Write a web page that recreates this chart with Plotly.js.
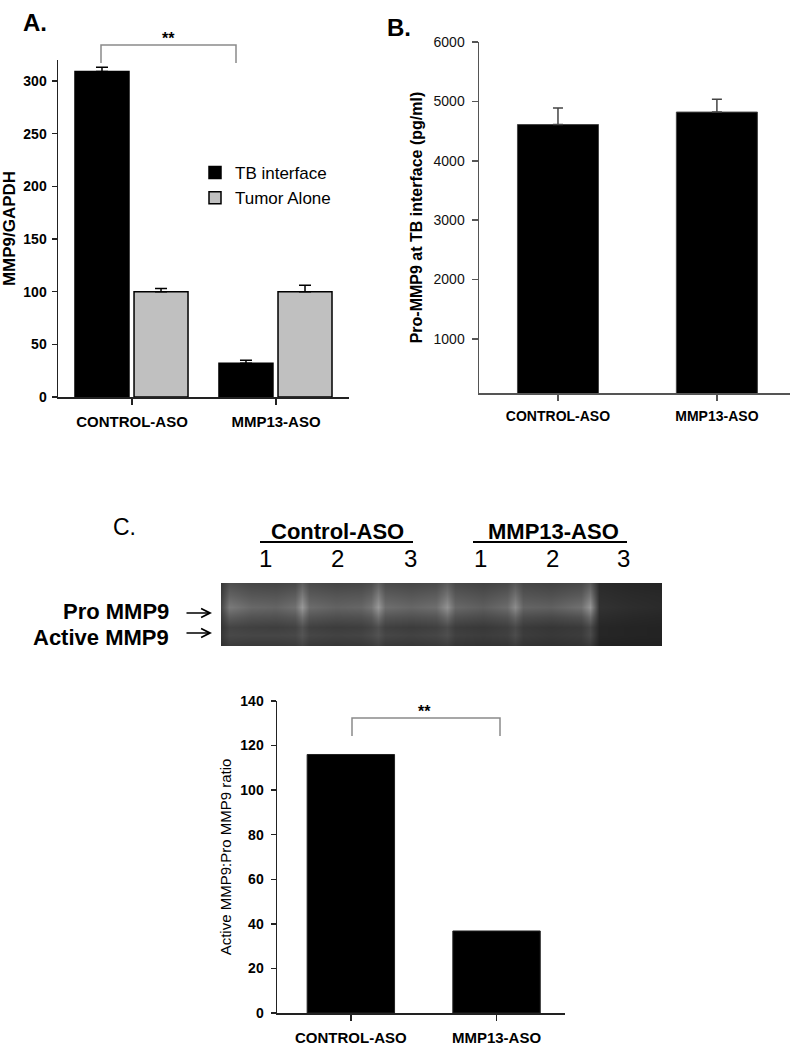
<!DOCTYPE html>
<html>
<head>
<meta charset="utf-8">
<script src="https://cdn.plot.ly/plotly-3.0.1.min.js"></script>
<style>
  body { margin: 0; background: #ffffff; }
  #graph { width: 800px; height: 1050px; }
</style>
</head>
<body>
<div id="graph"></div>
<script>
var categories = ['CONTROL-ASO', 'MMP13-ASO']; /*x categories used by all three bar panels*/
var tbInterface = [309, 32]; /*panel A black bars*/
var tbInterfaceErr = [4, 3];
var tumorAlone = [100, 100]; /*panel A grey bars*/
var tumorAloneErr = [3, 6];
var proMmp9 = [4610, 4820]; /*panel B*/
var proMmp9Err = [280, 215];
var activeRatio = [116, 36.8]; /*panel C*/
var laneGroups = ['Control-ASO', 'MMP13-ASO'];
var laneNumbers = ['1', '2', '3', '1', '2', '3'];
var laneCentres = [44, 116, 189, 259, 331, 402]; /*lane centres along the gel, in gel pixels*/
/*gel picture read as a coarse grid of grey levels (0 black - 255 white)*/
var gelCols = [0, 8, 30, 55, 74, 81, 88, 115, 140, 150, 157, 164, 190, 215, 226, 234, 262, 286, 294, 302, 330, 360, 369, 378, 410, 441];
var gelRows = [0, 12, 24, 34, 44, 52, 63];
var gelZ = [
    [55, 78, 70, 68, 72, 92, 74, 68, 70, 76, 94, 74, 70, 74, 90, 72, 66, 72, 86, 70, 66, 72, 88, 42, 38, 36],
    [62, 98, 86, 84, 92, 122, 90, 84, 86, 96, 124, 92, 86, 92, 116, 88, 80, 90, 112, 84, 80, 90, 118, 46, 42, 40],
    [70, 122, 104, 100, 112, 152, 108, 98, 102, 116, 152, 110, 102, 110, 146, 104, 94, 108, 140, 100, 96, 112, 150, 50, 45, 42],
    [60, 92, 82, 80, 86, 112, 84, 78, 80, 88, 112, 84, 80, 84, 106, 80, 74, 82, 100, 76, 72, 80, 106, 44, 40, 38],
    [52, 68, 64, 62, 66, 80, 64, 60, 62, 68, 78, 64, 60, 64, 74, 60, 56, 62, 72, 58, 54, 58, 72, 38, 36, 35],
    [55, 72, 70, 70, 72, 84, 70, 66, 68, 74, 82, 70, 66, 70, 78, 64, 60, 64, 76, 60, 56, 60, 74, 38, 36, 35],
    [48, 58, 56, 56, 58, 66, 56, 54, 55, 58, 64, 55, 54, 56, 60, 52, 50, 52, 58, 50, 48, 50, 56, 33, 32, 32]
];

var W = 800;
var H = 1050;
var FONT = 'Liberation Sans, Arial, sans-serif';
/*helpers turning page pixels into paper fractions*/
function px(x) { return x / W; }
function py(y) { return 1 - y / H; }

function bracket(x0, x1, yTop, yBottom) {
    return {
        type: 'path', xref: 'paper', yref: 'paper',
        path: 'M' + px(x0) + ',' + py(yBottom) + 'L' + px(x0) + ',' + py(yTop) +
            'L' + px(x1) + ',' + py(yTop) + 'L' + px(x1) + ',' + py(yBottom),
        line: { color: '#8a8a8a', width: 1.5 }
    };
}

function textNote(text, x, y, size, bold, anchor) {
    return {
        text: text, xref: 'paper', yref: 'paper', x: px(x), y: py(y),
        xanchor: anchor || 'center', yanchor: 'middle', showarrow: false,
        font: { family: FONT, size: size, color: '#000', weight: bold ? 'bold' : 'normal' }
    };
}

/*plain arrow pointing right at a gel band, head at (x, y), 27px long*/
function bandArrow(x, y) {
    return {
        text: '', xref: 'paper', yref: 'paper', x: px(x), y: py(y),
        showarrow: true, ax: -27, ay: 0, axref: 'pixel', ayref: 'pixel',
        arrowhead: 5, arrowsize: 1.1, arrowwidth: 1.6, arrowcolor: '#000', standoff: 0
    };
}

function drawGraph() {
    var tbTrace = {
        x: categories, y: tbInterface, type: 'bar', name: 'TB interface',
        xaxis: 'x', yaxis: 'y', offset: -0.396, width: 0.375,
        marker: { color: '#000000', line: { color: '#000000', width: 1.5 } },
        error_y: { type: 'data', symmetric: false, array: tbInterfaceErr, arrayminus: [0, 0], color: '#000', thickness: 1.5, width: 6 }
    };
    var tumorTrace = {
        x: categories, y: tumorAlone, type: 'bar', name: 'Tumor Alone',
        xaxis: 'x', yaxis: 'y', offset: 0.014, width: 0.375,
        marker: { color: '#c0c0c0', line: { color: '#000000', width: 1.5 } },
        error_y: { type: 'data', symmetric: false, array: tumorAloneErr, arrayminus: [0, 0], color: '#000', thickness: 1.5, width: 6 }
    };
    var proTrace = {
        x: categories, y: proMmp9, type: 'bar', showlegend: false,
        xaxis: 'x2', yaxis: 'y2', width: 0.51,
        marker: { color: '#000000', line: { color: '#444', width: 1 } },
        error_y: { type: 'data', symmetric: false, array: proMmp9Err, arrayminus: [0, 0], color: '#444', thickness: 1.5, width: 5 }
    };
    var ratioTrace = {
        x: categories, y: activeRatio, type: 'bar', showlegend: false,
        xaxis: 'x3', yaxis: 'y3', width: 0.6,
        marker: { color: '#000000', line: { color: '#222', width: 1 } }
    };
    var gelTrace = {
        x: gelCols, y: gelRows, z: gelZ, type: 'heatmap', showlegend: false,
        xaxis: 'x4', yaxis: 'y4', zmin: 0, zmax: 255, zsmooth: 'best', showscale: false,
        colorscale: [[0, 'rgb(0,0,0)'], [1, 'rgb(255,255,255)']], hoverinfo: 'skip'
    };
    var data = [gelTrace, tbTrace, tumorTrace, proTrace, ratioTrace];

    var catAxis = {
        showline: true, linewidth: 1.5, ticks: 'outside', ticklen: 6, tickwidth: 1.5,
        showgrid: false, zeroline: false, fixedrange: true, ticklabelstandoff: 4
    };
    var valAxis = {
        showline: true, linewidth: 1.5, ticks: 'outside', ticklen: 5, tickwidth: 1.5,
        showgrid: false, zeroline: false, fixedrange: true
    };

    layout = {
        width: W, height: H,
        margin: { l: 0, r: 0, t: 0, b: 0, pad: 0 },
        paper_bgcolor: '#ffffff', plot_bgcolor: 'rgba(0,0,0,0)',
        barmode: 'overlay',
        font: { family: FONT, color: '#000' },
        showlegend: true,
        legend: {
            x: px(195), y: py(155), xanchor: 'left', yanchor: 'top',
            bgcolor: 'rgba(0,0,0,0)', font: { family: FONT, size: 17, color: '#000' },
            traceorder: 'normal'
        },
        /*panel A*/
        xaxis: Object.assign({}, catAxis, {
            domain: [px(58), px(349)], range: [-0.514, 1.507], anchor: 'y',
            linecolor: '#222', tickcolor: '#222',
            tickfont: { family: FONT, size: 15, weight: 'bold', color: '#000' }
        }),
        yaxis: Object.assign({}, valAxis, {
            domain: [py(397), py(60)], range: [0, 320], dtick: 50, anchor: 'x',
            linecolor: '#222', tickcolor: '#222', ticklabelstandoff: 2,
            tickfont: { family: FONT, size: 14, weight: 'bold', color: '#000' },
            title: { text: 'MMP9/GAPDH', standoff: 8, font: { family: FONT, size: 17, weight: 'bold', color: '#000' } }
        }),
        /*panel B*/
        xaxis2: Object.assign({}, catAxis, {
            domain: [px(479), px(790)], range: [-0.497, 1.46], anchor: 'y2',
            linecolor: '#555', tickcolor: '#555',
            tickfont: { family: FONT, size: 14, weight: 'bold', color: '#000' }
        }),
        yaxis2: Object.assign({}, valAxis, {
            domain: [py(393), py(42)], range: [90, 6000], tick0: 0, dtick: 1000, anchor: 'x2',
            linecolor: '#555', tickcolor: '#555', ticklen: 6, ticklabelstandoff: 4,
            tickfont: { family: FONT, size: 14, color: '#111' },
            title: { text: 'Pro-MMP9 at TB interface (pg/ml)', standoff: 7, font: { family: FONT, size: 16, weight: 'bold', color: '#000' } }
        }),
        /*panel C*/
        xaxis3: Object.assign({}, catAxis, {
            domain: [px(277), px(565)], range: [-0.507, 1.47], anchor: 'y3',
            linecolor: '#222', tickcolor: '#222',
            tickfont: { family: FONT, size: 15, weight: 'bold', color: '#000' }
        }),
        yaxis3: Object.assign({}, valAxis, {
            domain: [py(1013), py(701)], range: [0, 140], dtick: 20, anchor: 'x3',
            linecolor: '#222', tickcolor: '#222', ticklabelstandoff: 4,
            tickfont: { family: FONT, size: 14, weight: 'bold', color: '#000' },
            title: { text: 'Active MMP9:Pro MMP9 ratio', standoff: 5, font: { family: FONT, size: 15, color: '#000' } }
        }),
        /*gel picture*/
        xaxis4: { domain: [px(221), px(662)], range: [0, 441], visible: false, fixedrange: true, anchor: 'y4' },
        yaxis4: { domain: [py(646), py(583)], range: [63, 0], visible: false, fixedrange: true, anchor: 'x4' },
        shapes: [
            bracket(101, 236, 45, 63),
            bracket(352, 500, 718, 736),
            { type: 'line', xref: 'paper', yref: 'paper', x0: px(260), x1: px(413), y0: py(542), y1: py(542), line: { color: '#000', width: 2 } },
            { type: 'line', xref: 'paper', yref: 'paper', x0: px(473), x1: px(627), y0: py(542), y1: py(542), line: { color: '#000', width: 2 } }
        ],
        annotations: [
            textNote('A.', 21, 23, 24, true, 'left'),
            textNote('B.', 385, 28, 24, true, 'left'),
            textNote('C.', 111, 527, 23, false, 'left'),
            textNote('**', 168, 38, 16, true),
            textNote('**', 424, 711, 16, true),
            textNote(laneGroups[0], 337, 531, 22, true),
            textNote(laneGroups[1], 553, 531, 22, true),
            textNote('Pro MMP9', 171, 611, 22, true, 'right'),
            textNote('Active MMP9', 171, 637, 22, true, 'right'),
            bandArrow(212, 613),
            bandArrow(212, 633)
        ]
    };

    /*lane numbers sit over the gel lanes*/
    for (var i = 0; i < laneNumbers.length; i += 1) {
        layout.annotations.push({
            text: laneNumbers[i], xref: 'x4', yref: 'paper', x: laneCentres[i], y: py(558),
            xanchor: 'center', yanchor: 'middle', showarrow: false,
            font: { family: FONT, size: 24, color: '#000' }
        });
    }

    Plotly.newPlot('graph', data, layout, { staticPlot: true });
}
drawGraph();
</script>
</body>
</html>
